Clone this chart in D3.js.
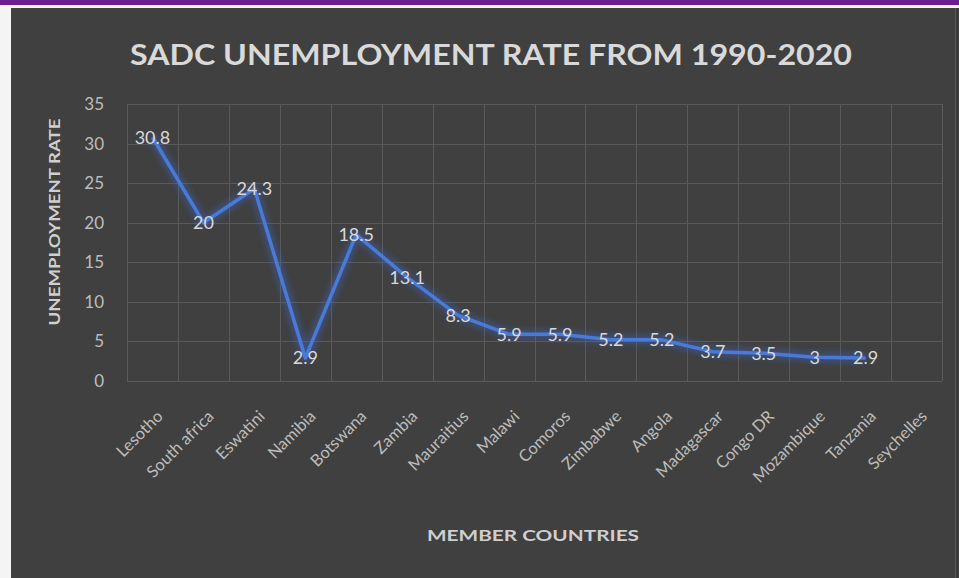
<!DOCTYPE html>
<html>
<head>
<meta charset="utf-8">
<script src="https://cdn.jsdelivr.net/npm/d3@7"></script>
<style>
  html, body { margin: 0; padding: 0; background: #ffffff; }
  svg { display: block; }
  text { font-family: Lato, "Open Sans", "DejaVu Sans", sans-serif; }
</style>
</head>
<body>
<div id="chart"></div>
<script>
  // ---- Data ---------------------------------------------------------------
  var countries = ['Lesotho', 'South africa', 'Eswatini', 'Namibia', 'Botswana',
    'Zambia', 'Mauraitius', 'Malawi', 'Comoros', 'Zimbabwe', 'Angola',
    'Madagascar', 'Congo DR', 'Mozambique', 'Tanzania', 'Seychelles'];
  // Seychelles has no value in the source chart
  var rates = [30.8, 20, 24.3, 2.9, 18.5, 13.1, 8.3, 5.9, 5.9, 5.2, 5.2,
    3.7, 3.5, 3, 2.9, null];
  var yTicks = [0, 5, 10, 15, 20, 25, 30, 35];

  var W = 959, H = 578;
  var plot = { left: 127, right: 942, top: 104, bottom: 381 };

  var svg = d3.select('#chart').append('svg')
    .attr('width', W).attr('height', H);

  // frame: purple band on top, white margin, dark panel
  svg.append('rect').attr('width', W).attr('height', H).attr('fill', '#f4f4f4');
  svg.append('rect').attr('width', W).attr('height', 5).attr('fill', '#6c1d8e');
  svg.append('rect').attr('x', 11).attr('y', 8).attr('width', 945).attr('height', H - 8)
    .attr('fill', '#404040');
  svg.append('line').attr('x1', 955.5).attr('x2', 955.5).attr('y1', 8).attr('y2', H)
    .attr('stroke', '#555').attr('stroke-width', 1);
  svg.append('rect').attr('x', 956).attr('y', 8).attr('width', 3).attr('height', H - 8)
    .attr('fill', '#3c3c3c');

  var defs = svg.append('defs');
  var glow = defs.append('filter').attr('id', 'glow')
    .attr('x', '-10%').attr('y', '-10%').attr('width', '120%').attr('height', '120%');
  glow.append('feGaussianBlur').attr('stdDeviation', 3);

  // ---- Scales -------------------------------------------------------------
  var x = d3.scaleBand().domain(countries).range([plot.left, plot.right]);
  var y = d3.scaleLinear().domain([0, 35]).range([plot.bottom, plot.top]);

  // ---- Grid ---------------------------------------------------------------
  var grid = svg.append('g').attr('stroke', '#5a5a5a').attr('stroke-width', 1);
  grid.selectAll('line.h').data(yTicks).enter().append('line')
    .attr('x1', plot.left).attr('x2', plot.right)
    .attr('y1', function(d) { return Math.round(y(d)) + 0.5; })
    .attr('y2', function(d) { return Math.round(y(d)) + 0.5; });
  var bounds = countries.map(function(c) { return x(c); }).concat([plot.right]);
  grid.selectAll('line.v').data(bounds).enter().append('line')
    .attr('x1', function(d) { return Math.round(d) + 0.5; })
    .attr('x2', function(d) { return Math.round(d) + 0.5; })
    .attr('y1', plot.top).attr('y2', plot.bottom);

  // ---- Axes ---------------------------------------------------------------
  var yAxis = svg.append('g')
    .attr('transform', 'translate(' + (plot.left - 23) + ',0)')
    .call(d3.axisLeft(y).tickValues(yTicks).tickSize(0).tickPadding(0));
  yAxis.select('.domain').remove();
  yAxis.selectAll('text').attr('fill', '#bdbdbd').style('font-size', '17px');

  var xAxis = svg.append('g')
    .call(d3.axisBottom(x).tickSize(0));
  xAxis.select('.domain').remove();
  xAxis.selectAll('.tick').attr('transform', function(d) {
    return 'translate(' + (x(d) + x.bandwidth() / 2 + 3) + ',' + 409 + ')';
  });
  xAxis.selectAll('text')
    .attr('fill', '#bdbdbd').style('font-size', '16.5px')
    .attr('text-anchor', 'end').attr('x', 0).attr('y', 0).attr('dy', '0.72em')
    .attr('transform', 'rotate(-45)');

  // ---- Line ---------------------------------------------------------------
  var pts = countries.map(function(c, i) { return { c: c, v: rates[i] }; })
    .filter(function(d) { return d.v !== null; });
  var line = d3.line()
    .x(function(d) { return x(d.c) + x.bandwidth() / 2; })
    .y(function(d) { return y(d.v); });

  svg.append('path').datum(pts).attr('d', line)
    .attr('fill', 'none').attr('stroke', '#3b64c8').attr('stroke-width', 9)
    .attr('stroke-opacity', 0.45).attr('stroke-linejoin', 'round')
    .attr('filter', 'url(#glow)');
  svg.append('path').datum(pts).attr('d', line)
    .attr('fill', 'none').attr('stroke', '#4a7ad8').attr('stroke-width', 3.5)
    .attr('stroke-linejoin', 'round');

  // ---- Data labels --------------------------------------------------------
  svg.append('g').selectAll('text').data(pts).enter().append('text')
    .attr('x', function(d) { return x(d.c) + x.bandwidth() / 2; })
    .attr('y', function(d) { return y(d.v); })
    .attr('dy', '0.35em')
    .attr('text-anchor', 'middle')
    .attr('fill', '#d9d9d9').style('font-size', '18px')
    .text(function(d) { return d.v; });

  // ---- Titles -------------------------------------------------------------
  svg.append('text').attr('x', 491).attr('y', 65)
    .attr('text-anchor', 'middle').attr('fill', '#d9d9d9')
    .attr('textLength', 722).attr('lengthAdjust', 'spacingAndGlyphs')
    .style('font-size', '28px').style('font-weight', 'bold')
    .text('SADC UNEMPLOYMENT RATE FROM 1990-2020');

  svg.append('text')
    .attr('transform', 'translate(60,222) rotate(-90)')
    .attr('text-anchor', 'middle').attr('fill', '#cfcfcf')
    .attr('textLength', 207).attr('lengthAdjust', 'spacingAndGlyphs')
    .style('font-size', '15px').style('font-weight', 'bold')
    .text('UNEMPLOYMENT RATE');

  svg.append('text').attr('x', 533).attr('y', 541)
    .attr('text-anchor', 'middle').attr('fill', '#cfcfcf')
    .attr('textLength', 212).attr('lengthAdjust', 'spacingAndGlyphs')
    .style('font-size', '15px').style('font-weight', 'bold')
    .text('MEMBER COUNTRIES');
</script>
</body>
</html>
